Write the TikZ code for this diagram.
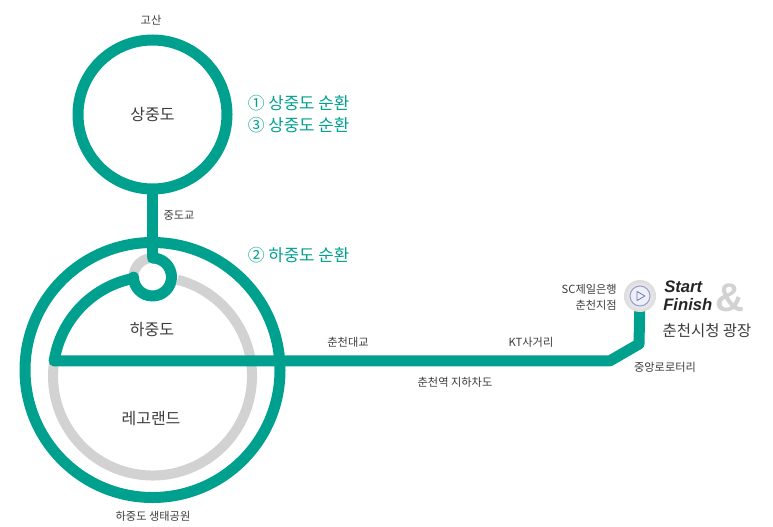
\documentclass[tikz,border=0pt]{standalone}
\usepackage{fontspec}
\setmainfont{Noto Sans CJK KR}
\newfontfamily\startfont{Liberation Sans}
\definecolor{routegreen}{RGB}{0,160,143}
\definecolor{ringgray}{RGB}{210,210,210}
\definecolor{labeldark}{RGB}{60,60,60}
\definecolor{playblue}{RGB}{110,120,185}
\tikzset{
  route/.style={draw=routegreen,line width=8.25pt,line cap=round,line join=round},
  ring/.style={draw=ringgray,line width=7.5pt},
  loopnode/.style={circle,route,inner sep=0pt,outer sep=0pt,text=labeldark,font=\fontsize{12}{14}\selectfont},
  smalllabel/.style={text=labeldark,inner sep=0.75pt,font=\fontsize{8.4}{10}\selectfont},
  namelabel/.style={text=labeldark,inner sep=0.75pt,font=\fontsize{12}{14}\selectfont},
  tourlabel/.style={text=routegreen,anchor=west,inner sep=0.75pt,font=\fontsize{12.6}{14}\selectfont},
  startlabel/.style={anchor=west,inner sep=0pt,text=black!85,font=\startfont\bfseries\itshape\fontsize{12.5}{14}\selectfont}
}
\begin{document}
\begin{tikzpicture}[x=0.75pt,y=0.75pt,yscale=-1,xscale=1]
\useasboundingbox (0,0) rectangle (773,527);

%Route points
\coordinate (looptop) at (152.5,258);
\coordinate (lineleft) at (54.2,360.8);
\coordinate (bend) at (610,360.8);
\coordinate (corner) at (639,344);

%Gray ring
\draw [ring] (lineleft) arc [start angle=188.8,end angle=-75.5,radius=99.5];
\draw [ring] (looptop) arc [start angle=-90,end angle=-180,radius=19];

%Circles
\node [loopnode,minimum size=111.75pt] (upper) at (152.5,114.5) {상중도};
\node [loopnode,minimum size=191.25pt] (lower) at (152.5,370) {};

%Marker
\node [circle,minimum size=24pt,inner sep=0pt,outer sep=0pt] (startmark) at (640,296) {};

%Straight Lines
\draw [route,line cap=butt] (upper) -- (looptop);
\draw [route] (lineleft) -- (bend) -- (corner) -- (startmark);
%Curved Lines
\draw [route] (looptop) arc [start angle=-90,end angle=180,radius=19];
\draw [route] (lineleft) arc [start angle=188.8,end angle=258.4,radius=99.5];

%Marker on top
\node [circle,minimum size=24pt,inner sep=0pt,inner color=white,outer color=black!14] (startdisc) at (startmark) {};
\node [circle,draw=playblue!70,line width=0.8pt,fill=playblue!12,minimum size=15pt,inner sep=0pt] (playring) at (startmark) {};
\draw [draw=playblue,line width=0.6pt,line join=round] (637,291.5) -- (645,296) -- (637,300.5) -- cycle;

% Text Node
\node [smalllabel] (gosan) at (151,20) {고산};
\node [smalllabel] (bridge) at (179,216) {중도교};
\node [tourlabel] (tourone) at (246.5,103) {① 상중도 순환};
\node [tourlabel] (tourthree) at (246.5,125) {③ 상중도 순환};
\node [tourlabel] (tourtwo) at (246.5,255) {② 하중도 순환};
\node [namelabel] (hajungdo) at (152,330) {하중도};
\node [namelabel] (legoland) at (151,419) {레고랜드};
\node [smalllabel] (ecopark) at (153,516) {하중도 생태공원};
\node [smalllabel] (daegyo) at (348,342) {춘천대교};
\node [smalllabel] (ktcross) at (531,342) {KT사거리};
\node [smalllabel] (underpass) at (455,382) {춘천역 지하차도};
\node [smalllabel] (rotary) at (665,367) {중앙로로터리};
\node [smalllabel,anchor=east] (scbank) at (618,289) {SC제일은행};
\node [smalllabel,anchor=east] (scbranch) at (618,305) {춘천지점};
\node [text=ringgray,inner sep=0pt,font=\startfont\bfseries\fontsize{30}{32}\selectfont] (amp) at (730,298) {\&};
\node [startlabel] (starttext) at (664,287) {Start};
\node [startlabel] (finishtext) at (663,305) {Finish};
\node [namelabel,font=\fontsize{11.6}{13}\selectfont] (plaza) at (707,331) {춘천시청 광장};

\end{tikzpicture}
\end{document}
